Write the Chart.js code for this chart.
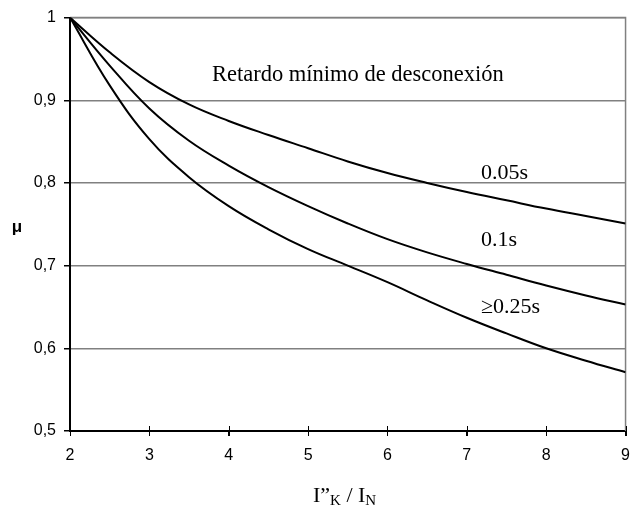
<!DOCTYPE html>
<html>
<head>
<meta charset="utf-8">
<script src="https://cdn.jsdelivr.net/npm/chart.js@4"></script>
<style>
  html, body { margin: 0; padding: 0; background: #fff; }
  #wrap { width: 640px; height: 511px; }
</style>
</head>
<body>
<div id="wrap"><canvas id="myChart" width="640" height="511"></canvas></div>
<script>
// values
const xValues = [2, 2.5, 3, 3.5, 4, 4.5, 5, 5.5, 6, 6.5, 7, 7.5, 8, 8.5, 9];
const mu005 = [1.0, 0.958, 0.922, 0.895, 0.875, 0.858, 0.842, 0.826, 0.812, 0.800, 0.789, 0.779, 0.769, 0.760, 0.751];
const mu01 = [1.0, 0.942, 0.890, 0.851, 0.821, 0.795, 0.772, 0.751, 0.732, 0.716, 0.702, 0.689, 0.676, 0.664, 0.653];
const mu025 = [1.0, 0.918, 0.853, 0.807, 0.772, 0.744, 0.720, 0.700, 0.680, 0.658, 0.637, 0.618, 0.600, 0.585, 0.571];
const curveLabels = ['0.05s', '0.1s', '\u22650.25s'];
const xTicks = [2, 3, 4, 5, 6, 7, 8, 9];

const toPoints = (ys) => ys.map((y, i) => ({ x: xValues[i], y: y }));

const serif = '"Liberation Serif", "Times New Roman", serif';
const sans = '"Liberation Sans", Arial, sans-serif';

// extra drawing: frame, crossing x ticks, free texts
const extras = {
  id: 'extras',
  beforeDatasetsDraw(chart) {
    const { ctx, chartArea: a } = chart;
    ctx.save();
    ctx.strokeStyle = '#808080';
    ctx.lineWidth = 1.5;
    ctx.beginPath();
    ctx.moveTo(a.left, a.top);
    ctx.lineTo(a.right, a.top);
    ctx.lineTo(a.right, a.bottom);
    ctx.stroke();
    ctx.restore();
  },
  afterDraw(chart) {
    const { ctx, chartArea: a, scales } = chart;
    ctx.save();
    // x ticks crossing the axis
    ctx.strokeStyle = '#000';
    ctx.lineWidth = 1;
    xTicks.forEach(v => {
      const px = Math.round(scales.x.getPixelForValue(v)) + 0.5;
      ctx.beginPath();
      ctx.moveTo(px, a.bottom - 5);
      ctx.lineTo(px, a.bottom + 5);
      ctx.stroke();
    });

    ctx.fillStyle = '#000';
    ctx.textBaseline = 'alphabetic';
    ctx.textAlign = 'left';
    ctx.font = '22.5px ' + serif;
    ctx.fillText('Retardo m\u00ednimo de desconexi\u00f3n', 212, 81);

    ctx.font = '22px ' + serif;
    ctx.fillText(curveLabels[0], 481, 179);
    ctx.fillText(curveLabels[1], 481, 246);
    ctx.fillText(curveLabels[2], 481, 313);

    // y title
    ctx.font = 'bold 17px ' + sans;
    ctx.textAlign = 'center';
    ctx.fillText('\u03bc', 17, 232);

    // x title  I"K / IN
    ctx.textAlign = 'left';
    let x = 313;
    ctx.font = '22px ' + serif;
    ctx.fillText('I\u201d', x, 502);
    x += ctx.measureText('I\u201d').width;
    ctx.font = '15px ' + serif;
    ctx.fillText('K', x, 505);
    x += ctx.measureText('K').width;
    ctx.font = '22px ' + serif;
    ctx.fillText(' / I', x, 502);
    x += ctx.measureText(' / I').width;
    ctx.font = '15px ' + serif;
    ctx.fillText('N', x, 505);
    ctx.restore();
  }
};

const lineStyle = {
  borderColor: '#000',
  borderWidth: 2,
  pointRadius: 0,
  fill: false,
  tension: 0.4
};

new Chart(document.getElementById('myChart').getContext('2d'), {
  type: 'line',
  data: {
    datasets: [
      { label: curveLabels[0], data: toPoints(mu005), ...lineStyle },
      { label: curveLabels[1], data: toPoints(mu01), ...lineStyle },
      { label: curveLabels[2], data: toPoints(mu025), ...lineStyle }
    ]
  },
  options: {
    responsive: false,
    animation: false,
    layout: { padding: { top: 16, right: 3, left: 0, bottom: 0 } },
    plugins: {
      legend: { display: false },
      tooltip: { enabled: false }
    },
    scales: {
      x: {
        type: 'linear',
        min: 2,
        max: 9,
        afterBuildTicks: (scale) => { scale.ticks = xTicks.map(v => ({ value: v })); },
        afterFit: (scale) => { scale.height = 80; },
        grid: { drawOnChartArea: false, drawTicks: true, tickLength: 5, tickColor: '#000' },
        border: { color: '#000', width: 2 },
        ticks: {
          color: '#000',
          padding: 10,
          maxRotation: 0,
          font: { family: sans, size: 16 }
        }
      },
      y: {
        min: 0.5,
        max: 1,
        afterFit: (scale) => { scale.width = 70; },
        grid: { color: '#808080', lineWidth: 1.5, tickLength: 6, tickColor: '#000' },
        border: { color: '#000', width: 2 },
        ticks: {
          stepSize: 0.1,
          color: '#000',
          padding: 8,
          font: { family: sans, size: 16 },
          callback: (v) => (Math.round(v * 10) / 10).toString().replace('.', ',')
        }
      }
    }
  },
  plugins: [extras]
});
</script>
</body>
</html>
